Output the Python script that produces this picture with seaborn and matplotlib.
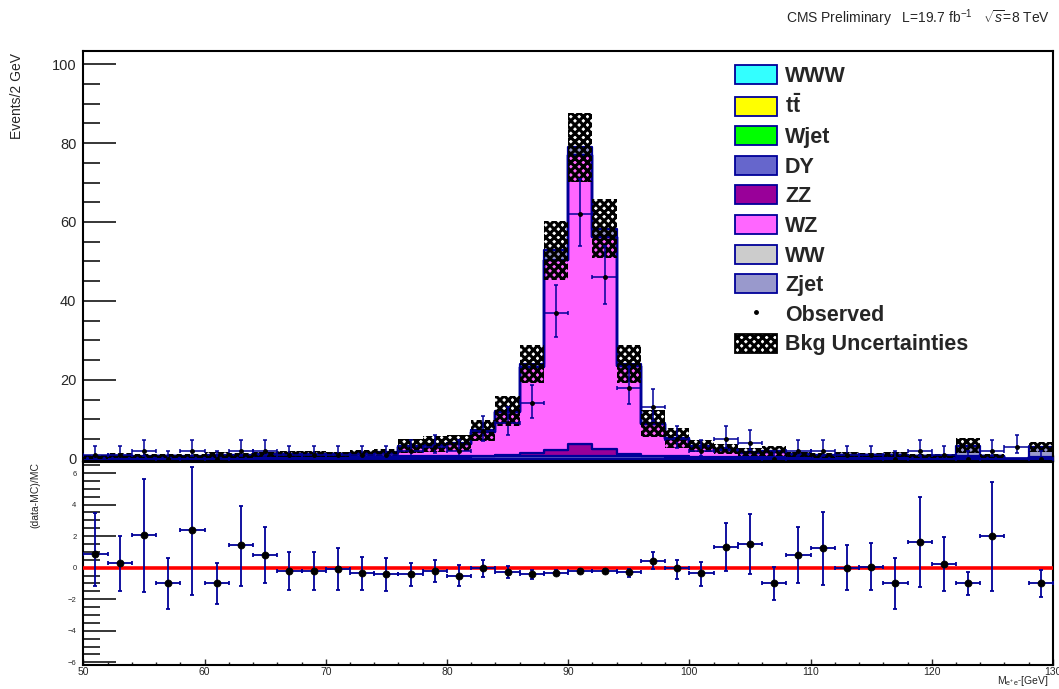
import numpy as np
import pandas as pd
import matplotlib
matplotlib.use("Agg")
import matplotlib.pyplot as plt
import seaborn as sns
from matplotlib.patches import Patch
from matplotlib.lines import Line2D
from matplotlib.ticker import MultipleLocator

# ---------------- data ----------------
bin_edges = [50, 52, 54, 56, 58, 60, 62, 64, 66, 68, 70, 72, 74, 76, 78, 80, 82, 84, 86, 88,
             90, 92, 94, 96, 98, 100, 102, 104, 106, 108, 110, 112, 114, 116, 118, 120, 122, 124, 126, 128, 130]
bin_centers = [51, 53, 55, 57, 59, 61, 63, 65, 67, 69, 71, 73, 75, 77, 79, 81, 83, 85, 87, 89,
               91, 93, 95, 97, 99, 101, 103, 105, 107, 109, 111, 113, 115, 117, 119, 121, 123, 125, 127, 129]

www = [0, 0, 0, 0, 0, 0, 0, 0, 0, 0, 0, 0, 0, 0, 0, 0, 0, 0, 0, 0,
       0, 0, 0, 0, 0, 0, 0, 0, 0, 0, 0, 0, 0, 0, 0, 0, 0, 0, 0, 0]
ttbar = [0, 0, 0, 0, 0, 0, 0, 0, 0, 0, 0, 0, 0, 0, 0, 0, 0, 0, 0, 0,
         0, 0, 0, 0, 0, 0, 0, 0, 0, 0, 0, 0, 0, 0, 0, 0, 0, 0, 0, 0]
wjet = [0, 0, 0, 0, 0, 0, 0, 0, 0, 0, 0, 0, 0, 0, 0, 0, 0, 0, 0, 0,
        0, 0, 0, 0, 0, 0, 0, 0, 0, 0, 0, 0, 0, 0, 0, 0, 0, 0, 0, 0]
dy = [0.30, 0.35, 0.30, 0.30, 0.30, 0.40, 0.30, 0.35, 0.35, 0.35, 0.30, 0.40, 0.40, 0.50, 0.50, 0.55, 0.60, 0.70, 0.60, 0.60,
      0.60, 0.60, 0.60, 0.60, 0.50, 0.40, 0.40, 0.35, 0.40, 0.30, 0.30, 0.30, 0.30, 0.30, 0.30, 0.30, 0.30, 0.30, 0.00, 0.40]
zz = [0.03, 0.03, 0.03, 0.03, 0.03, 0.05, 0.05, 0.05, 0.05, 0.05, 0.05, 0.05, 0.05, 0.10, 0.10, 0.10, 0.20, 0.30, 0.85, 1.50,
      3.20, 1.95, 0.50, 0.20, 0.10, 0.05, 0.05, 0.05, 0.05, 0.05, 0.03, 0.03, 0.03, 0.03, 0.03, 0.03, 0.03, 0.03, 0.00, 0.03]
wz = [0.10, 0.20, 0.22, 0.27, 0.17, 0.25, 0.38, 0.50, 0.65, 0.65, 0.65, 0.85, 0.99, 2.40, 2.85, 3.05, 6.10, 10.8, 21.75, 48.3,
      73.1, 53.75, 22.3, 7.90, 4.40, 2.45, 1.75, 1.10, 1.25, 0.65, 0.47, 0.57, 0.50, 0.57, 0.33, 0.37, 0.27, 0.24, 0.00, 0.07]
ww = [0, 0, 0, 0, 0, 0, 0, 0, 0, 0, 0, 0, 0, 0, 0, 0, 0, 0, 0, 0,
      0, 0, 0, 0, 0, 0, 0, 0, 0, 0, 0, 0, 0, 0, 0, 0, 0, 0, 0, 0]
zjet = [0.10, 0.20, 0.10, 0.10, 0.10, 0.30, 0.10, 0.20, 0.20, 0.20, 0.10, 0.20, 0.20, 0.30, 0.30, 0.30, 0.30, 0.40, 0.80, 2.40,
        2.00, 2.00, 0.60, 0.30, 0.20, 0.30, 0.20, 0.10, 0.30, 0.10, 0.10, 0.10, 0.10, 0.10, 0.10, 0.10, 2.70, 0.10, 0.00, 2.50]

bkg_unc = [0.5, 0.6, 0.5, 0.5, 0.5, 0.7, 0.6, 0.7, 0.7, 0.7, 0.7, 0.8, 0.9, 1.8, 2.1, 2.0, 2.7, 3.8, 4.8, 7.4,
           8.8, 7.5, 4.8, 3.4, 2.6, 1.6, 1.3, 1.0, 1.2, 0.7, 0.6, 0.6, 0.6, 0.6, 0.5, 0.5, 1.9, 0.5, 0.0, 1.3]

observed = [1, 1, 2, 0, 2, 0, 2, 2, 1, 1, 1, 1, 1, 2, 3, 2, 7, 9, 14, 37,
            62, 46, 18, 13, 5, 2, 5, 4, 0, 2, 2, 1, 1, 0, 2, 1, 0, 2, 3, 0]
obs_err_lo = [0.83, 0.83, 1.29, 0.0, 1.29, 0.0, 1.29, 1.29, 0.83, 0.83, 0.83, 0.83, 0.83, 1.29, 1.63, 1.29, 2.58, 2.94, 3.7, 6.1,
              8.1, 6.8, 4.2, 3.56, 2.16, 1.29, 2.16, 1.91, 0.0, 1.29, 1.29, 0.83, 0.83, 0.0, 1.29, 0.83, 0.0, 1.29, 1.63, 0.0]
obs_err_hi = [2.30, 2.30, 2.64, 1.84, 2.64, 1.84, 2.64, 2.64, 2.30, 2.30, 2.30, 2.30, 2.30, 2.64, 2.92, 2.64, 3.77, 4.11, 4.8, 7.1,
              8.8, 7.8, 5.3, 4.67, 3.38, 2.64, 3.38, 3.16, 1.84, 2.64, 2.64, 2.30, 2.30, 1.84, 2.64, 2.30, 1.84, 2.64, 2.92, 1.84]

ratio = [0.88, 0.28, 2.06, -0.99, 2.36, -0.99, 1.41, 0.81, -0.20, -0.20, -0.10, -0.33, -0.39, -0.39, -0.20, -0.50, 0.00, -0.29, -0.41, -0.31,
         -0.20, -0.20, -0.25, 0.45, -0.03, -0.33, 1.30, 1.51, -0.99, 0.81, 1.24, 0.00, 0.07, -0.99, 1.62, 0.26, -0.99, 2.00, np.nan, -0.99]
ratio_top = [3.45, 2.01, 5.61, 0.63, 6.41, 0.32, 3.92, 2.60, 1.00, 1.00, 1.23, 0.70, 0.63, 0.30, 0.47, 0.15, 0.51, 0.13, -0.17, -0.15,
             -0.08, -0.10, -0.08, 0.97, 0.49, 0.38, 2.84, 3.43, 0.06, 2.58, 3.51, 1.42, 1.57, 0.59, 4.49, 1.95, -0.25, 5.40, np.nan, -0.15]
ratio_bot = [-1.14, -1.46, -1.52, -2.65, -1.74, -2.31, -1.14, -0.95, -1.42, -1.42, -1.42, -1.42, -1.46, -1.14, -0.93, -1.16, -0.57, -0.68, -0.72, -0.49,
             -0.36, -0.34, -0.57, -0.10, -0.70, -1.14, -0.19, -0.40, -2.07, -0.95, -1.08, -1.42, -1.44, -2.62, -1.25, -1.46, -1.76, -1.46, np.nan, -1.86]

process_names = ["WWW", "tt", "Wjet", "DY", "ZZ", "WZ", "WW", "Zjet"]
process_labels = ["WWW", r"$\mathbf{t\bar{t}}$", "Wjet", "DY", "ZZ", "WZ", "WW", "Zjet"]
process_values = [www, ttbar, wjet, dy, zz, wz, ww, zjet]
process_colors = ["#33ffff", "#ffff00", "#00ff00", "#6666cc", "#990099", "#ff66ff", "#cccccc", "#9999cc"]

NAVY = "#000099"

# ---------------- style ----------------
sns.set_theme(style="white")
plt.rcParams["font.family"] = ["Liberation Sans", "DejaVu Sans"]
plt.rcParams["mathtext.fontset"] = "custom"
plt.rcParams["mathtext.rm"] = "Liberation Sans"
plt.rcParams["mathtext.it"] = "Liberation Sans:italic"
plt.rcParams["mathtext.bf"] = "Liberation Sans:bold"
plt.rcParams["hatch.linewidth"] = 2.2
plt.rcParams["hatch.color"] = "black"

fig = plt.figure(figsize=(10.59, 6.89), dpi=100)
L, W = 0.0787, 0.9156
ax = fig.add_axes([L, 0.3302, W, 0.5962])
axr = fig.add_axes([L, 0.0348, W, 0.2947])

# ---------------- stacked MC ----------------
rows = []
for name, vals in zip(process_names, process_values):
    for c, v in zip(bin_centers, vals):
        rows.append({"mass": c, "events": v, "process": name})
df = pd.DataFrame(rows)
palette = dict(zip(process_names, process_colors))

sns.histplot(data=df, x="mass", weights="events", hue="process",
             hue_order=process_names[::-1], bins=bin_edges, multiple="stack",
             element="step", palette=palette, alpha=1.0, edgecolor=NAVY,
             linewidth=1.6, legend=False, ax=ax)

# uncertainty band
total = np.sum(np.array(process_values, dtype=float), axis=0)
unc = np.array(bkg_unc)
lo = total - unc
hi = total + unc
ax.fill_between(bin_edges, np.append(lo, lo[-1]), np.append(hi, hi[-1]), step="post",
                facecolor="none", edgecolor="black", hatch="xxxx", linewidth=0, zorder=3)

# observed
ax.errorbar(bin_centers, observed, yerr=[obs_err_lo, obs_err_hi], xerr=1.0, fmt="o",
            ms=2.5, mfc="black", mec="black", ecolor=NAVY, elinewidth=1.1,
            capsize=1.5, capthick=1.1, zorder=5)

ax.set_xlim(50, 130)
ax.set_ylim(-0.7, 103.4)
ax.set_xlabel("")
ax.set_ylabel("")
ax.tick_params(axis="x", labelbottom=False)

# ---------------- ratio ----------------
rc = np.array(bin_centers, dtype=float)
rv = np.array(ratio, dtype=float)
rt = np.array(ratio_top, dtype=float)
rb = np.array(ratio_bot, dtype=float)
ok = ~np.isnan(rv)
axr.axhline(0, color="red", lw=2.6, zorder=4)
axr.errorbar(rc[ok], rv[ok], yerr=[rv[ok] - rb[ok], rt[ok] - rv[ok]], xerr=1.0, fmt="none",
             ecolor=NAVY, elinewidth=1.3, capsize=1.5, capthick=1.3, zorder=5)
sns.scatterplot(x=rc[ok], y=rv[ok], color="black", s=26, edgecolor="black", linewidth=0.5,
                zorder=6, ax=axr)
axr.set_xlim(50, 130)
axr.set_ylim(-6.17, 6.7)

# ---------------- ticks / spines ----------------
for a in (ax, axr):
    for s in a.spines.values():
        s.set_linewidth(1.5)
        s.set_color("black")
        s.set_visible(True)

ax.yaxis.set_major_locator(MultipleLocator(20))
ax.yaxis.set_minor_locator(MultipleLocator(5))
ax.xaxis.set_major_locator(MultipleLocator(10))
ax.xaxis.set_minor_locator(MultipleLocator(2))
ax.tick_params(axis="y", which="major", direction="in", length=24, width=1.3, labelsize=10.5, pad=5,
               left=True, right=False)
ax.tick_params(axis="y", which="minor", direction="in", length=12, width=1.3, left=True, right=False)
ax.tick_params(axis="x", which="major", direction="in", length=4, width=1.0, bottom=True, top=False)
ax.tick_params(axis="x", which="minor", direction="in", length=3, width=1.0, bottom=True, top=False)

axr.yaxis.set_major_locator(MultipleLocator(2))
axr.yaxis.set_minor_locator(MultipleLocator(0.5))
axr.xaxis.set_major_locator(MultipleLocator(10))
axr.xaxis.set_minor_locator(MultipleLocator(2))
axr.tick_params(axis="y", which="major", direction="in", length=24, width=1.3, labelsize=5.5, pad=5,
                left=True, right=False)
axr.tick_params(axis="y", which="minor", direction="in", length=12, width=1.3, left=True, right=False)
axr.tick_params(axis="x", which="major", direction="in", length=4, width=1.0, labelsize=7.5, pad=1.5,
                bottom=True, top=False)
axr.tick_params(axis="x", which="minor", direction="in", length=2.5, width=1.0, bottom=True, top=False)
axr.set_xlabel("")
axr.set_ylabel("")

# ---------------- texts ----------------
fig.text(0.9915, 0.974, r"CMS Preliminary   L=19.7 fb$^{-1}$   $\sqrt{s}$=8 TeV",
         ha="right", va="center", fontsize=10)
fig.text(0.016, 1 - 53 / 689, "Events/2 GeV", rotation=90, ha="center", va="top", fontsize=10)
fig.text(0.033, 1 - 462 / 689, "(data-MC)/MC", rotation=90, ha="center", va="top", fontsize=7.5)
fig.text(0.9900, 0.0015, r"M$_{\mathregular{e^{+}e^{-}}}$[GeV]", ha="right", va="bottom",
         fontsize=7.5)

# ---------------- legend ----------------
handles = [Patch(facecolor=c, edgecolor=NAVY, linewidth=1.3) for c in process_colors]
labels = list(process_labels)
handles.append(Line2D([], [], marker="o", ms=2.5, color="black", linestyle="none"))
labels.append("Observed")
handles.append(Patch(facecolor="white", edgecolor="black", hatch="xxxx", linewidth=1.3))
labels.append("Bkg Uncertainties")
fig.legend(handles, labels, loc="upper left", bbox_to_anchor=(735 / 1059, 1 - 65 / 689),
           frameon=False, borderpad=0, borderaxespad=0, handlelength=1.95, handleheight=0.98,
           handletextpad=0.37, labelspacing=0.36, prop={"weight": "bold", "size": 15.5})

fig.savefig("out.png", dpi=100)
